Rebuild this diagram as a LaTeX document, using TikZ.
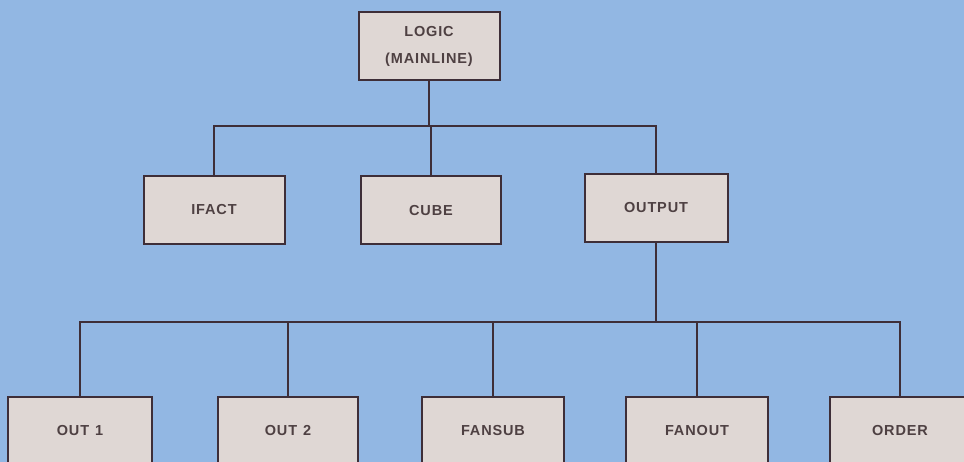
\documentclass[tikz,border=0pt]{standalone}
\usepackage{fontspec}
\setmainfont{Liberation Sans}[LetterSpace=6]
\definecolor{bgblue}{RGB}{146,183,227}
\definecolor{boxfill}{RGB}{223,215,212}
\definecolor{inkline}{RGB}{62,46,56}
\definecolor{inktext}{RGB}{78,64,66}
\begin{document}
\begin{tikzpicture}[x=1pt,y=-1pt,
  modbox/.style={draw=inkline, fill=boxfill, line width=2pt, rectangle,
    minimum width=141pt, minimum height=68pt, inner sep=0pt,
    font=\fontsize{14.5}{27}\selectfont\bfseries, text=inktext, align=center},
  conn/.style={draw=inkline, line width=1.8pt}]
\useasboundingbox (0,0) rectangle (964,462);
\clip (0,0) rectangle (964,462);
\fill[bgblue] (0,0) rectangle (964,462);
% top level
\node[modbox] (logic) at (429,46) {LOGIC\\(MAINLINE)};
% second level
\node[modbox] (ifact) at (214,210) {IFACT};
\node[modbox, minimum width=140pt] (cube) at (431,210.5) {CUBE};
\node[modbox, minimum width=143pt] (output) at (656,208) {OUTPUT};
% third level
\node[modbox, minimum width=144pt] (out1) at (80,431) {OUT\hspace{6pt}1};
\node[modbox, minimum width=140pt] (out2) at (288,431) {OUT\hspace{6pt}2};
\node[modbox, minimum width=142pt] (fansub) at (493,431) {FANSUB};
\node[modbox, minimum width=142pt] (fanout) at (697,431) {FANOUT};
\node[modbox, minimum width=140pt] (order) at (900,431) {ORDER};
% buses
\coordinate (bus1) at (0,126);
\coordinate (bus2) at (0,322);
\draw[conn] (logic.south) -- (logic.south |- bus1);
\draw[conn] (ifact.north) -- (ifact.north |- bus1) -- (output.north |- bus1) -- (output.north);
\draw[conn] (cube.north) -- (cube.north |- bus1);
\draw[conn] (output.south) -- (output.south |- bus2);
\draw[conn] (out1.north) -- (out1.north |- bus2) -- (order.north |- bus2) -- (order.north);
\draw[conn] (out2.north) -- (out2.north |- bus2);
\draw[conn] (fansub.north) -- (fansub.north |- bus2);
\draw[conn] (fanout.north) -- (fanout.north |- bus2);
\end{tikzpicture}
\end{document}
